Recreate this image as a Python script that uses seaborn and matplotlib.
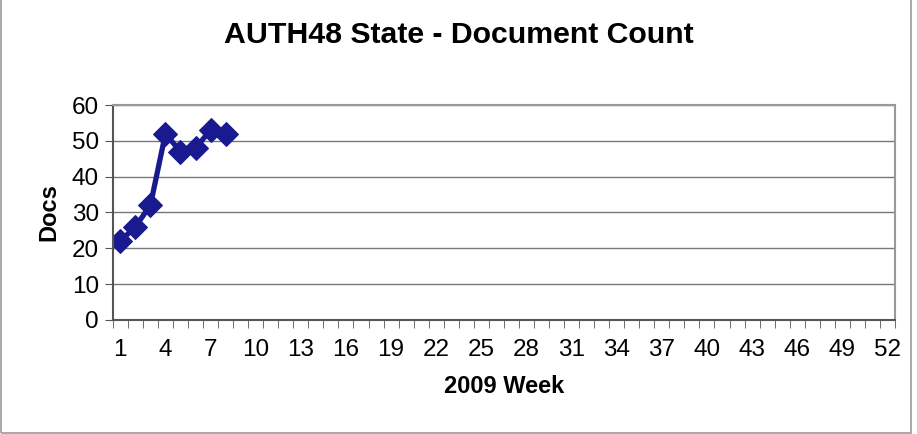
import matplotlib
matplotlib.use('Agg')
import matplotlib.pyplot as plt
import seaborn as sns
import pandas as pd
from matplotlib.patches import Rectangle

weeks = [1, 2, 3, 4, 5, 6, 7, 8]
docs = [22, 26, 32, 52, 47, 48, 53, 52]
x_labels = list(range(1, 53, 3))
y_ticks = [0, 10, 20, 30, 40, 50, 60]

sns.set_style('white')
plt.rcParams['font.family'] = ['Liberation Sans', 'DejaVu Sans']
plt.rcParams['text.color'] = 'black'
plt.rcParams['axes.labelcolor'] = 'black'
plt.rcParams['xtick.labelcolor'] = 'black'
plt.rcParams['ytick.labelcolor'] = 'black'

df = pd.DataFrame({'week': weeks, 'docs': docs})

fig = plt.figure(figsize=(9.17, 4.34), dpi=100)
ax = fig.add_axes([0.123, 0.263, 0.853, 0.495])

sns.lineplot(data=df, x='week', y='docs', ax=ax, color='#1A1A90',
             marker='D', markersize=12, linewidth=3.8, markeredgecolor='#1A1A90')

ax.set_xlim(0.5, 52.5)
ax.set_ylim(0, 60)
ax.set_yticks(y_ticks)
ax.set_xticks(x_labels)
ax.set_xticks([i + 0.5 for i in range(0, 53)], minor=True)
ax.tick_params(axis='x', which='major', length=0, labelsize=17.5, pad=14)
ax.tick_params(axis='x', which='minor', length=6, color='#555555', direction='out', bottom=True)
ax.tick_params(axis='y', which='major', length=6, color='#555555', direction='out', left=True, labelsize=17.5, pad=4)
ax.grid(axis='y', color='#777777', linewidth=1)
for side in ['top', 'right']:
    ax.spines[side].set_color('#999999')
    ax.spines[side].set_linewidth(1.5)
for side in ['left', 'bottom']:
    ax.spines[side].set_color('#555555')
    ax.spines[side].set_linewidth(1.5)

ax.set_xlabel('2009 Week', fontsize=17, fontweight='bold', labelpad=10)
ax.set_ylabel('Docs', fontsize=17, fontweight='bold', labelpad=8)
fig.suptitle('AUTH48 State - Document Count', fontsize=21.8, fontweight='bold', y=0.952)

fig.patches.append(Rectangle((0.001, 0.003), 0.993, 1.1, transform=fig.transFigure,
                             fill=False, edgecolor='#999999', linewidth=1.2))

fig.savefig('out.png', dpi=100)
